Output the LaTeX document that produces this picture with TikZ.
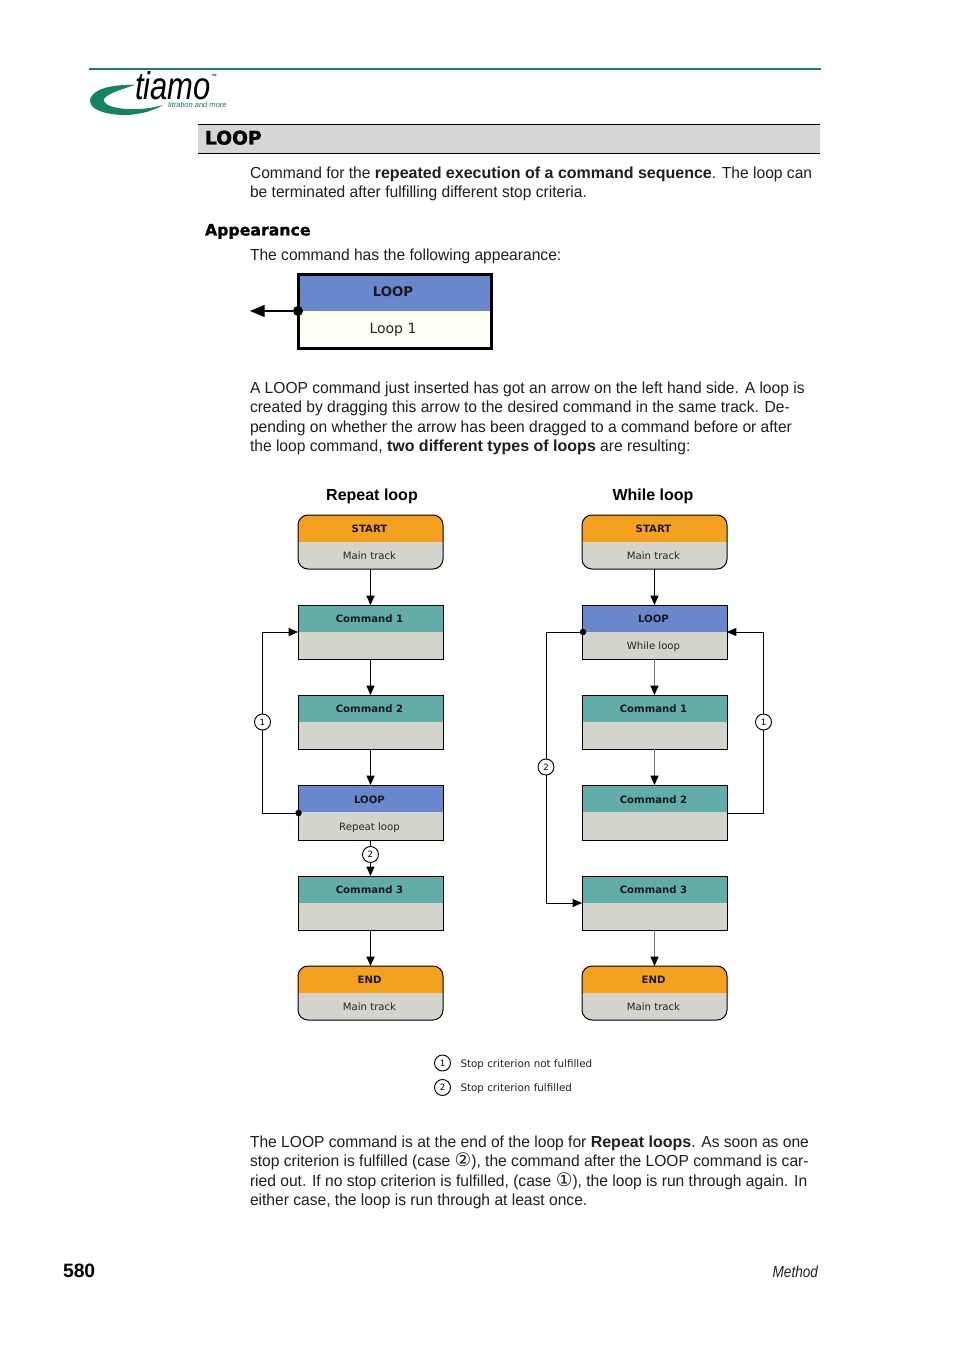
\documentclass[tikz,border=0pt]{standalone}
\usepackage{fontspec}
\setmainfont{Liberation Sans}[FakeStretch=0.975]
\newfontfamily\bodybf{Liberation Sans}[UprightFont={* Bold}]
\newfontfamily\dv{DejaVu Sans}
\usetikzlibrary{arrows.meta}
\definecolor{orangeh}{HTML}{F4A11F}
\definecolor{grayb}{HTML}{D4D3CC}
\definecolor{tealh}{HTML}{63ADA9}
\definecolor{blueh}{HTML}{6A86CC}
\definecolor{creamb}{HTML}{FFFFF6}
\definecolor{logog}{HTML}{12845F}
\newdimen\pxu \pxu=0.75pt
\tikzset{
 x=0.75pt,y=-0.75pt,
 line/.style={anchor=base west,inner sep=0pt,outer sep=0pt,font=\fontsize{12}{14}\selectfont,text=black!88},
 conn/.style={draw=black,line width=0.75pt},
 arr/.style={conn,-{Triangle[length=7pt,width=6pt,color=black]}},
 arrg/.style={arr,draw=black!55},
 dot/.style={circle,fill=black,inner sep=0pt,minimum size=6.5\pxu},
 num/.style={circle,draw=black,fill=white,line width=0.7pt,inner sep=0pt,minimum size=16\pxu,font=\dv\fontsize{6.5}{7}\selectfont},
 boxhead/.style={anchor=base,font=\dv\bfseries\fontsize{7.6}{9}\selectfont,inner sep=0pt,text=black!90},
 boxsub/.style={anchor=base,font=\dv\fontsize{7.6}{9}\selectfont,inner sep=0pt,text=black!85},
 outline/.style={draw=black,line width=0.75pt,inner sep=0pt,outer sep=0pt,minimum width=145\pxu,minimum height=#1\pxu},
 outline/.default=54
}
% name, left x, top y, height, head colour, corner radius, title, subtitle
\newcommand{\flowbox}[8]{%
 \begin{scope}
  \clip[rounded corners=#6] (#2,#3) rectangle ++(145,#4);
  \fill[grayb] (#2,#3) rectangle ++(145,#4);
  \fill[#5] (#2,#3) rectangle ++(145,27);
 \end{scope}
 \node[outline=#4,rounded corners=#6] (#1) at ({#2+72.5},{#3+#4/2}) {};
 \node[boxhead] (#1-t) at ({#2+71.5},{#3+17+#4-54}) {#7};
 \node[boxsub] (#1-s) at ({#2+71.5},{#3+44+#4-54}) {#8};
}
\begin{document}
\begin{tikzpicture}
\useasboundingbox[fill=white] (0,0) rectangle (954,1351);
% header
\draw[logog,line width=1.2pt] (89,69) -- (821,69);
\fill[logog] (135,85) .. controls (105,84) and (90,92) .. (90,101) .. controls (90,111) and (110,115) .. (125,115) .. controls (140,115) and (155,110) .. (163,105) .. controls (145,110) and (130,110) .. (118,108) .. controls (105,106) and (100,100) .. (107,96) .. controls (113,92) and (125,88) .. (135,85) -- cycle;
\node[line,text=black] (logo) at (135,100) {\fontsize{29}{30}\selectfont\itshape\addfontfeature{FakeStretch=0.8}tiamo};
\node[line,text=black] (tm) at (211,79) {\fontsize{4.5}{5}\selectfont ™};
\node[line,text=logog] (tag) at (168,107.5) {\fontsize{5.8}{6}\selectfont\itshape titration and more};
\fill[black!16] (198,124.5) rectangle (820,153.5);
\draw[black,line width=0.75pt] (198,124.5) -- (820,124.5) (198,153.5) -- (820,153.5);
\node[line,text=black] (title) at (205,144.5) {\dv\bfseries\fontsize{14}{16}\selectfont\addfontfeature{FakeBold=1.5}LOOP};
% text
\node[line] (a1) at (250,178.7) {Command for the {\bodybf repeated execution of a command sequence}. The loop can};
\node[line] (a2) at (250,197.7) {be terminated after fulfilling different stop criteria.};
\node[line,text=black] (app) at (205,235.5) {\dv\bfseries\fontsize{11.8}{14}\selectfont\addfontfeature{FakeBold=1.2}Appearance};
\node[line] (a3) at (250,260.7) {The command has the following appearance:};
% appearance box
\fill[creamb] (298,275) rectangle (492,349);
\fill[blueh] (298,275) rectangle (492,311);
\node[draw=black,line width=2.25pt,inner sep=0pt,minimum width=193\pxu,minimum height=74\pxu] (big) at (395,312) {};
\node[boxhead,font=\dv\bfseries\fontsize{10}{12}\selectfont] (big-t) at (393,297) {LOOP};
\node[boxsub,font=\dv\fontsize{10.5}{12}\selectfont] (big-s) at (393,334) {Loop 1};
\node[dot,minimum size=10\pxu] (bigdot) at (298,311) {};
\coordinate (bigend) at (250,311);
\draw[conn,line width=1pt,-{Triangle[length=11pt,width=9pt]}] (bigdot) -- (bigend);
% paragraph
\node[line] (b1) at (250,393) {A LOOP command just inserted has got an arrow on the left hand side. A loop is};
\node[line] (b2) at (250,412) {created by dragging this arrow to the desired command in the same track. De-};
\node[line] (b3) at (250,432) {pending on whether the arrow has been dragged to a command before or after};
\node[line] (b4) at (250,451) {the loop command, {\bodybf two different types of loops} are resulting:};
\node[line,anchor=base,text=black,font=\bodybf\fontsize{12}{14}\selectfont] (hl) at (372,500) {Repeat loop};
\node[line,anchor=base,text=black,font=\bodybf\fontsize{12}{14}\selectfont] (hr) at (653,500) {While loop};
% left column
\flowbox{ls}{298}{515}{54}{orangeh}{7.5}{START}{Main track}
\flowbox{lc1}{298}{605}{54}{tealh}{0}{Command 1}{}
\flowbox{lc2}{298}{695}{54}{tealh}{0}{Command 2}{}
\flowbox{ll}{298}{785}{55}{blueh}{0}{LOOP}{Repeat loop}
\flowbox{lc3}{298}{876}{54}{tealh}{0}{Command 3}{}
\flowbox{le}{298}{966}{54}{orangeh}{7.5}{END}{Main track}
% right column
\flowbox{rs}{582}{515}{54}{orangeh}{7.5}{START}{Main track}
\flowbox{rl}{582}{605}{54}{blueh}{0}{LOOP}{While loop}
\flowbox{rc1}{582}{695}{54}{tealh}{0}{Command 1}{}
\flowbox{rc2}{582}{785}{55}{tealh}{0}{Command 2}{}
\flowbox{rc3}{582}{876}{54}{tealh}{0}{Command 3}{}
\flowbox{re}{582}{966}{54}{orangeh}{7.5}{END}{Main track}
% straight connectors
\foreach \a/\b in {ls/lc1,lc1/lc2,lc2/ll,ll/lc3,lc3/le,rs/rl}
  \draw[arr] (\a.south) -- (\b.north);
\foreach \a/\b in {rl/rc1,rc1/rc2,rc3/re}
  \draw[arrg] (\a.south) -- (\b.north);
% ports
\node[dot] (ldot) at (298.5,813) {};
\node[dot] (rdot) at (583,632) {};
\coordinate (lin) at (298,632);
\coordinate (rin) at (727,632);
\coordinate (rout) at (727,813);
\coordinate (r3in) at (582,903);
% loops
\draw[arr] (ldot.center) -- (262,813) -- (262,632) -- (lin);
\draw[arr] (rdot.center) -- (546,632) -- (546,903) -- (r3in);
\draw[arr] (rout) -- (763,813) -- (763,632) -- (rin);
% numbers
\node[num] (n1) at (262.5,722) {1};
\node[num] (n2) at (370.5,854.5) {2};
\node[num] (n3) at (546,767) {2};
\node[num] (n4) at (763.5,722) {1};
% legend
\node[num] (k1) at (442.5,1063) {1};
\node[num] (k2) at (442.5,1087.5) {2};
\node[line,font=\dv\fontsize{7.75}{9}\selectfont] (k1t) at (460.5,1067) {Stop criterion not fulfilled};
\node[line,font=\dv\fontsize{7.75}{9}\selectfont] (k2t) at (460.5,1091.5) {Stop criterion fulfilled};
% closing paragraph
\node[line] (c1) at (250,1147) {The LOOP command is at the end of the loop for {\bodybf Repeat loops}. As soon as one};
\node[line] (c2) at (250,1166) {stop criterion is fulfilled (case {\dv\fontsize{14}{14}\selectfont ②}), the command after the LOOP command is car-};
\node[line] (c3) at (250,1186) {ried out. If no stop criterion is fulfilled, (case {\dv\fontsize{14}{14}\selectfont ①}), the loop is run through again. In};
\node[line] (c4) at (250,1205) {either case, the loop is run through at least once.};
% footer
\node[line,text=black,font=\bodybf\fontsize{14.5}{16}\selectfont] (pg) at (63,1277) {580};
\node[line,anchor=base east,font=\itshape\fontsize{12}{14}\selectfont\addfontfeature{FakeStretch=0.85}] (me) at (818,1277) {Method};
\end{tikzpicture}
\end{document}
